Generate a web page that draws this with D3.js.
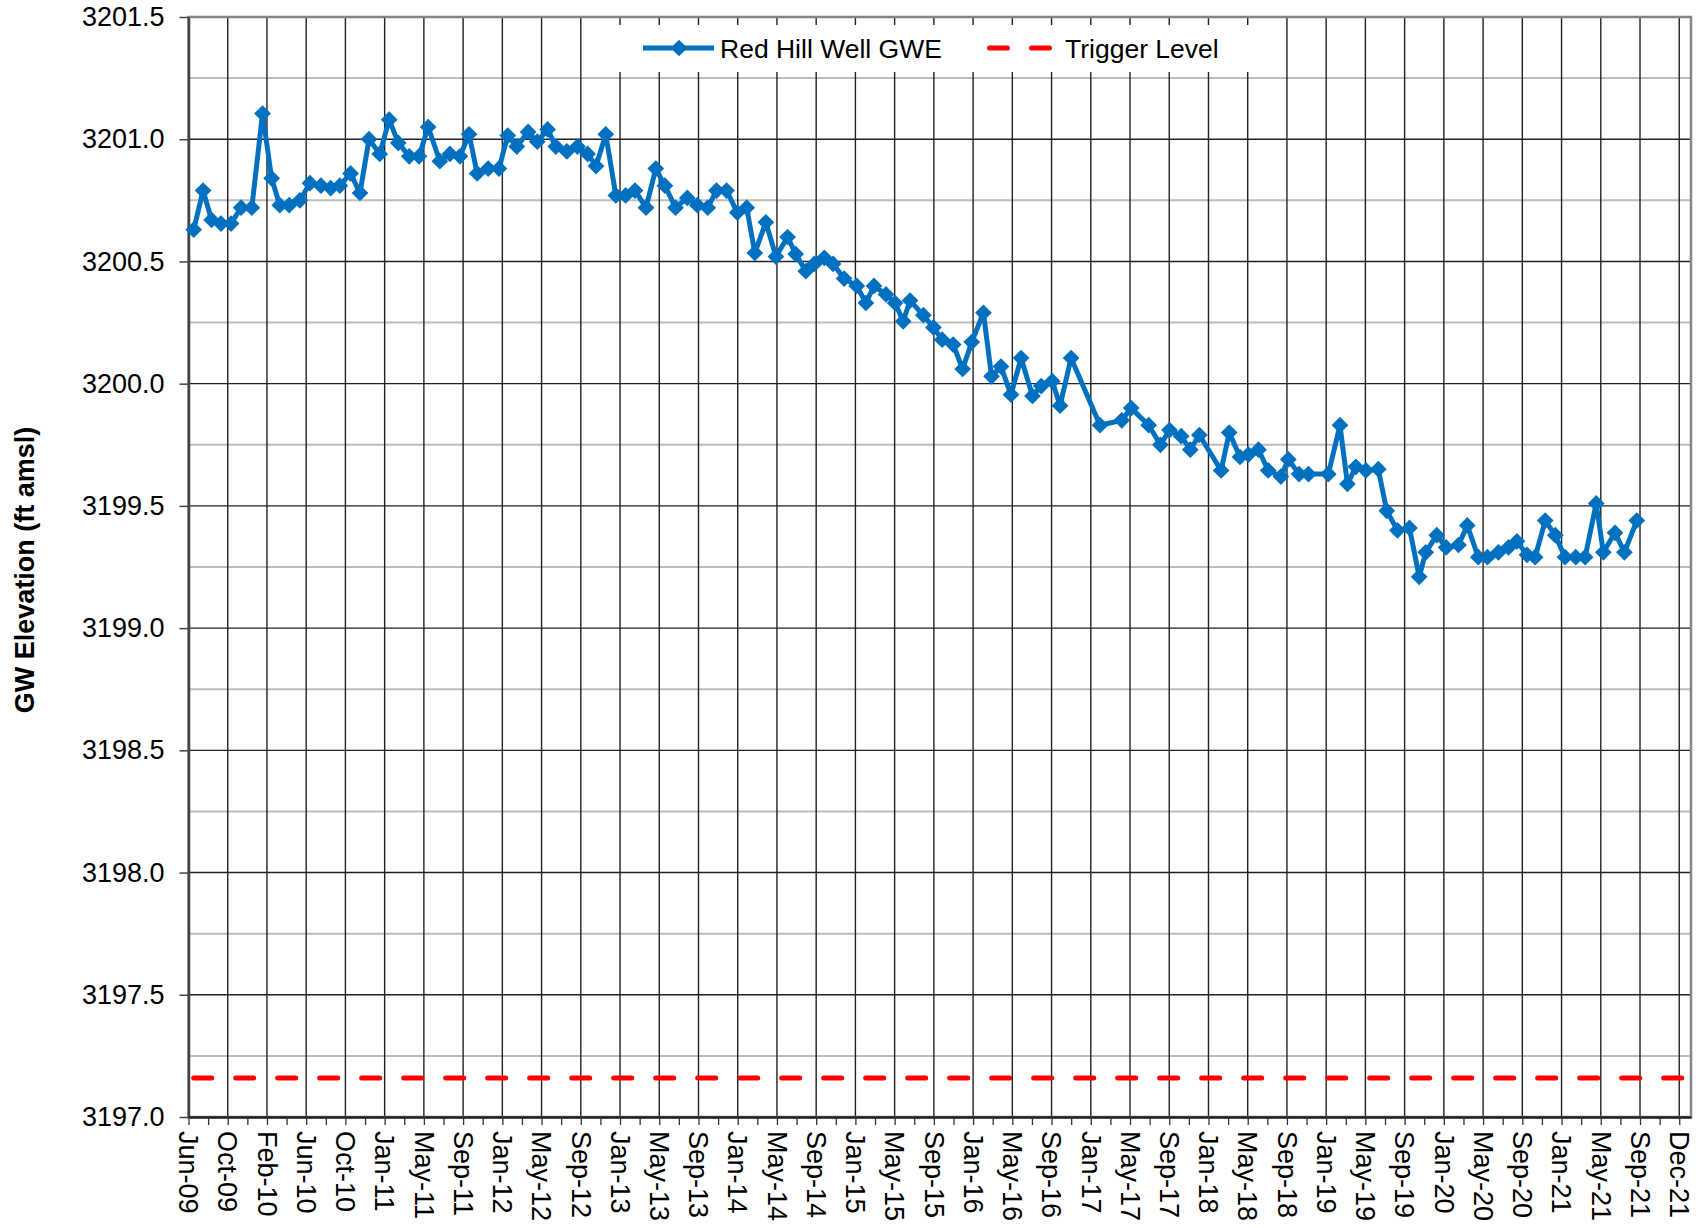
<!DOCTYPE html>
<html>
<head>
<meta charset="utf-8">
<script src="https://cdn.jsdelivr.net/npm/d3@7"></script>
<style>
    body { margin: 0; background: #fff; }
    svg text { font-family: "Liberation Sans", Arial, sans-serif; fill: #000; }
</style>
</head>
<body>
<script>
// sampling dates of the Red Hill well
const sampleDates = [
    "2009-06-22","2009-07-21","2009-08-16","2009-09-14","2009-10-15","2009-11-15","2009-12-18",
    "2010-01-20","2010-02-17","2010-03-14","2010-04-12","2010-05-15","2010-06-15","2010-07-19","2010-08-18","2010-09-15","2010-10-18","2010-11-16","2010-12-14",
    "2011-01-16","2011-02-14","2011-03-14","2011-04-17","2011-05-17","2011-06-14","2011-07-20","2011-08-20","2011-09-20","2011-10-18","2011-11-12","2011-12-16",
    "2012-01-18","2012-02-14","2012-03-13","2012-04-17","2012-05-15","2012-06-16","2012-07-11","2012-08-14","2012-09-16","2012-10-17","2012-11-12","2012-12-12",
    "2013-01-12","2013-02-11","2013-03-12","2013-04-15","2013-05-15","2013-06-12","2013-07-15","2013-08-20","2013-09-20","2013-10-22","2013-11-18","2013-12-19",
    "2014-01-21","2014-02-19","2014-03-16","2014-04-19","2014-05-20","2014-06-25","2014-07-20","2014-08-20","2014-09-15","2014-10-16","2014-11-12","2014-12-16",
    "2015-01-24","2015-02-21","2015-03-18","2015-04-24","2015-05-22","2015-06-16","2015-07-07","2015-08-17","2015-09-17","2015-10-14","2015-11-17","2015-12-16",
    "2016-01-13","2016-02-18","2016-03-14","2016-04-12","2016-05-13","2016-06-13","2016-07-18","2016-08-14","2016-09-17","2016-10-11","2016-11-14",
    "2017-02-11","2017-04-19","2017-05-18","2017-07-11","2017-08-16","2017-09-13","2017-10-19","2017-11-16","2017-12-14",
    "2018-02-19","2018-03-16","2018-04-18","2018-05-14","2018-06-14","2018-07-14","2018-08-22","2018-09-14","2018-10-17","2018-11-15",
    "2019-01-15","2019-02-20","2019-03-15","2019-04-10","2019-05-11","2019-06-18","2019-07-14","2019-08-16","2019-09-22","2019-10-22","2019-11-11","2019-12-15",
    "2020-01-13","2020-02-20","2020-03-18","2020-04-21","2020-05-19","2020-06-22","2020-07-23","2020-08-18","2020-09-18","2020-10-13","2020-11-13","2020-12-14",
    "2021-01-13","2021-02-15","2021-03-16","2021-04-19","2021-05-11","2021-06-16","2021-07-15","2021-08-22"
];

// groundwater elevation, ft amsl
const gweValues = [
    3200.63, 3200.79, 3200.67, 3200.655, 3200.655, 3200.72, 3200.72,
    3201.105, 3200.84, 3200.73, 3200.73, 3200.75, 3200.82, 3200.81, 3200.80, 3200.81, 3200.86, 3200.78, 3201.00,
    3200.94, 3201.08, 3200.985, 3200.93, 3200.93, 3201.05, 3200.91, 3200.94, 3200.93, 3201.02, 3200.86, 3200.88,
    3200.88, 3201.015, 3200.97, 3201.03, 3200.99, 3201.04, 3200.97, 3200.95, 3200.97, 3200.94, 3200.89, 3201.02,
    3200.77, 3200.77, 3200.79, 3200.72, 3200.88, 3200.81, 3200.72, 3200.76, 3200.73, 3200.72, 3200.79, 3200.79,
    3200.70, 3200.72, 3200.535, 3200.66, 3200.52, 3200.60, 3200.53, 3200.46, 3200.49, 3200.515, 3200.49, 3200.43,
    3200.40, 3200.33, 3200.40, 3200.365, 3200.33, 3200.255, 3200.34, 3200.28, 3200.23, 3200.18, 3200.16, 3200.06,
    3200.17, 3200.29, 3200.03, 3200.07, 3199.955, 3200.105, 3199.95, 3199.99, 3200.01, 3199.91, 3200.105,
    3199.83, 3199.85, 3199.90, 3199.83, 3199.75, 3199.81, 3199.785, 3199.73, 3199.79,
    3199.645, 3199.80, 3199.70, 3199.71, 3199.73, 3199.645, 3199.62, 3199.69, 3199.63, 3199.63,
    3199.63, 3199.83, 3199.59, 3199.66, 3199.645, 3199.65, 3199.48, 3199.40, 3199.41, 3199.21, 3199.31, 3199.38,
    3199.33, 3199.34, 3199.42, 3199.29, 3199.29, 3199.31, 3199.33, 3199.355, 3199.30, 3199.29, 3199.44, 3199.38,
    3199.29, 3199.29, 3199.29, 3199.51, 3199.31, 3199.39, 3199.31, 3199.44
];

const triggerLevel = 3197.16;
const triggerDates = ["2009-06-22", "2022-02-05"];

const axisDates = ["2009-06-06", "2022-02-05"];
const tickStepDays = 120.81;
const xTickLabels = [
    "Jun-09","Oct-09","Feb-10","Jun-10","Oct-10","Jan-11","May-11","Sep-11","Jan-12","May-12",
    "Sep-12","Jan-13","May-13","Sep-13","Jan-14","May-14","Sep-14","Jan-15","May-15","Sep-15",
    "Jan-16","May-16","Sep-16","Jan-17","May-17","Sep-17","Jan-18","May-18","Sep-18","Jan-19",
    "May-19","Sep-19","Jan-20","May-20","Sep-20","Jan-21","May-21","Sep-21","Dec-21"
];
const yTickValues = [3197.0, 3197.5, 3198.0, 3198.5, 3199.0, 3199.5, 3200.0, 3200.5, 3201.0, 3201.5];
const yMinorValues = [3197.25, 3197.75, 3198.25, 3198.75, 3199.25, 3199.75, 3200.25, 3200.75, 3201.25];

const seriesNames = ["Red Hill Well GWE", "Trigger Level"];

const drawChart = () => {
    let width = 1699,
        height = 1228,
        plot = {left: 188.5, right: 1691, top: 17, bottom: 1117},
        blue = "#0070C0",
        red = "#FF0000";

    let parseDate = d3.timeParse("%Y-%m-%d"),
        data = sampleDates.map((d, i) => ({date: parseDate(d), value: gweValues[i]})),
        axisStart = parseDate(axisDates[0]);

    let xScale = d3.scaleTime()
        .domain(axisDates.map(parseDate))
        .range([plot.left, plot.right]);
    let yScale = d3.scaleLinear()
        .domain([yTickValues[0], yTickValues[yTickValues.length - 1]])
        .range([plot.bottom, plot.top]);

    let stepDate = k => new Date(+axisStart + k * tickStepDays * 864e5),
        majorDates = xTickLabels.map((t, i) => stepDate(i)),
        minorDates = d3.range(xTickLabels.length - 1).map(i => stepDate(i + 0.5));

    let svg = d3.select("body")
        .append("svg")
            .attr("width", width)
            .attr("height", height);

    svg.append("defs").append("clipPath")
        .attr("id", "plot-clip")
        .append("rect")
            .attr("x", plot.left)
            .attr("y", plot.top)
            .attr("width", plot.right - plot.left)
            .attr("height", plot.bottom - plot.top);

    // gridlines
    let grid = svg.append("g").classed("grid", true);
    grid.selectAll(".minor-h")
        .data(yMinorValues)
        .enter()
        .append("line")
            .attr("x1", plot.left).attr("x2", plot.right)
            .attr("y1", d => yScale(d)).attr("y2", d => yScale(d))
            .attr("stroke", "#bdbdbd")
            .attr("stroke-width", 2);
    grid.selectAll(".major-h")
        .data(yTickValues.slice(1, -1))
        .enter()
        .append("line")
            .attr("x1", plot.left).attr("x2", plot.right)
            .attr("y1", d => yScale(d)).attr("y2", d => yScale(d))
            .attr("stroke", "#222")
            .attr("stroke-width", 1.4);
    grid.selectAll(".major-v")
        .data(majorDates.slice(1))
        .enter()
        .append("line")
            .attr("x1", d => xScale(d)).attr("x2", d => xScale(d))
            .attr("y1", plot.top).attr("y2", plot.bottom)
            .attr("stroke", "#222")
            .attr("stroke-width", 1.4);

    svg.append("rect")
        .attr("x", plot.left)
        .attr("y", plot.top)
        .attr("width", plot.right - plot.left)
        .attr("height", plot.bottom - plot.top)
        .attr("fill", "none")
        .attr("stroke", "#858585")
        .attr("stroke-width", 2.5);

    // y axis
    let yAxis = d3.axisLeft(yScale)
        .tickValues(yTickValues)
        .tickFormat(d3.format(".1f"))
        .tickSize(9)
        .tickSizeOuter(0)
        .tickPadding(15);
    let yAxisG = svg.append("g")
        .classed("y-axis", true)
        .attr("transform", "translate(" + plot.left + ",0)")
        .call(yAxis);
    yAxisG.select(".domain").attr("stroke", "#444").attr("stroke-width", 2.5);
    yAxisG.selectAll(".tick line").attr("stroke", "#444").attr("stroke-width", 1.5);
    yAxisG.selectAll("text").style("font-size", "27px");

    // x axis, labelled ticks plus half-step ticks
    let xAxis = d3.axisBottom(xScale)
        .tickValues(majorDates)
        .tickFormat((d, i) => xTickLabels[i])
        .tickSize(8)
        .tickSizeOuter(0);
    let xAxisG = svg.append("g")
        .classed("x-axis", true)
        .attr("transform", "translate(0," + plot.bottom + ")")
        .call(xAxis);
    xAxisG.select(".domain").attr("stroke", "#222").attr("stroke-width", 2.5);
    xAxisG.selectAll(".tick line").attr("stroke", "#333").attr("stroke-width", 1.3);
    xAxisG.selectAll("text")
        .attr("transform", "rotate(90)")
        .attr("x", 14)
        .attr("y", 0)
        .attr("dy", "0.36em")
        .style("text-anchor", "start")
        .style("font-size", "27px");

    let xMinor = d3.axisBottom(xScale)
        .tickValues(minorDates)
        .tickFormat("")
        .tickSize(8)
        .tickSizeOuter(0);
    let xMinorG = svg.append("g")
        .attr("transform", "translate(0," + plot.bottom + ")")
        .call(xMinor);
    xMinorG.select(".domain").remove();
    xMinorG.selectAll(".tick line").attr("stroke", "#333").attr("stroke-width", 1.3);

    svg.append("text")
        .classed("y-title", true)
        .attr("transform", "translate(24," + ((plot.top + plot.bottom) / 2 + 3) + ") rotate(-90)")
        .attr("dy", "0.36em")
        .style("text-anchor", "middle")
        .style("font-size", "27px")
        .style("font-weight", "bold")
        .text("GW Elevation (ft amsl)");

    // trigger level
    let triggerData = triggerDates.map(d => ({date: parseDate(d), value: triggerLevel}));
    let lineGen = d3.line()
        .x(d => xScale(d.date))
        .y(d => yScale(d.value));

    svg.append("path")
        .datum(triggerData)
        .attr("clip-path", "url(#plot-clip)")
        .attr("d", lineGen)
        .attr("fill", "none")
        .attr("stroke", red)
        .attr("stroke-width", 5)
        .attr("stroke-linecap", "round")
        .attr("stroke-dasharray", "18,24");

    // well series
    svg.append("path")
        .datum(data)
        .attr("d", lineGen)
        .attr("fill", "none")
        .attr("stroke", blue)
        .attr("stroke-width", 5)
        .attr("stroke-linejoin", "round");

    let diamond = d3.symbol().type(d3.symbolSquare).size(140);
    svg.append("g")
        .selectAll(".marker")
        .data(data)
        .enter()
        .append("path")
            .classed("marker", true)
            .attr("d", diamond)
            .attr("transform", d => "translate(" + xScale(d.date) + "," + yScale(d.value) + ") rotate(45)")
            .attr("fill", blue);

    // legend
    let legend = svg.append("g").classed("legend", true);
    let legendY = 48;
    legend.append("rect")
        .attr("x", 605)
        .attr("y", 25)
        .attr("width", 657)
        .attr("height", 47)
        .attr("fill", "#fff");
    legend.append("line")
        .attr("x1", 643).attr("x2", 714)
        .attr("y1", legendY).attr("y2", legendY)
        .attr("stroke", blue)
        .attr("stroke-width", 5);
    legend.append("path")
        .attr("d", diamond)
        .attr("transform", "translate(679," + legendY + ") rotate(45)")
        .attr("fill", blue);
    legend.append("text")
        .attr("x", 720)
        .attr("y", legendY)
        .attr("dy", "0.36em")
        .style("font-size", "26.5px")
        .text(seriesNames[0]);
    legend.append("line")
        .attr("x1", 989.5).attr("x2", 1050)
        .attr("y1", legendY).attr("y2", legendY)
        .attr("stroke", red)
        .attr("stroke-width", 5)
        .attr("stroke-linecap", "round")
        .attr("stroke-dasharray", "18,24");
    legend.append("text")
        .attr("x", 1065)
        .attr("y", legendY)
        .attr("dy", "0.36em")
        .style("font-size", "26.5px")
        .text(seriesNames[1]);
}

drawChart();
</script>
</body>
</html>
